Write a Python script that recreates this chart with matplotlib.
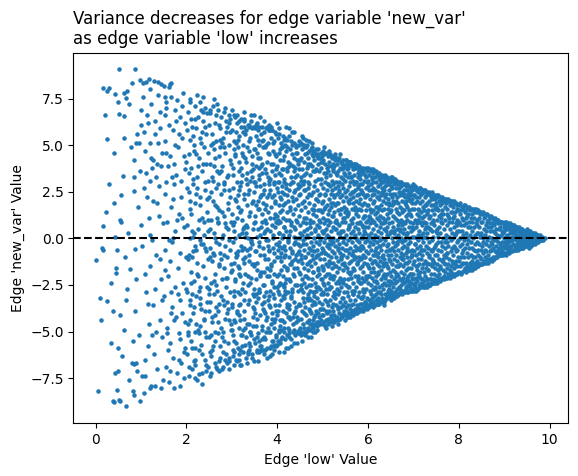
import matplotlib
matplotlib.use("Agg")
import matplotlib.pyplot as plt

# (low, new_var) pairs, left part of the cloud (low < 4), read point by point
sparse_points = [
    (0.51, 9.06), (0.87, 9.11), (0.16, 8.09), (0.25, 7.89), (0.29, 8.05), (0.43, 7.75), (0.63, 7.8), (0.69, 7.91),
    (0.49, 7.3), (0.66, 7.55), (0.73, 7.23), (0.8, 8.34), (0.51, 6.69), (0.62, 6.55), (0.25, 5.33), (0.4, 4.6),
    (0.6, 3.34), (0.84, 4.2), (0.84, 3.29), (0.84, 2.52), (0.4, 1.91), (0.23, 1.42), (0.16, 0.67), (0.54, 1.0),
    (0.57, 0.9), (0.43, 0.06), (0.92, 5.6), (0.96, 5.1), (0.9, 5.1), (0.98, 8.5), (0.3, 2.9), (0.62, 5.4),
    (0.71, 0.3), (0.77, 4.9), (0.93, 1.7), (0.2, 6.6), (0.97, 3.6), (0.56, 2.3),
    (0.01, -1.15), (0.12, -4.38), (0.09, -3.2), (0.25, -3.38), (0.05, -8.2), (0.38, -8.74), (0.51, -8.66),
    (0.67, -8.97), (0.47, -8.15), (0.82, -8.2), (0.84, -8.4), (0.98, -8.75), (0.41, -8.77), (0.54, -8.73),
    (0.43, -7.2), (0.49, -7.1), (0.49, -5.9), (0.15, -0.5), (0.17, -0.65), (0.45, -1.6), (0.45, -1.85),
    (0.47, -0.62), (0.38, -3.9), (0.54, -4.1), (0.67, -3.3), (0.69, -2.73), (0.76, -1.64), (0.87, -0.58),
    (0.82, -5.5), (0.81, -6.7), (0.85, -6.75), (0.89, -6.7), (0.91, -7.1), (0.35, -2.4), (0.58, -6.3),
    (0.88, -3.9), (0.95, -5.2), (0.64, -1.0), (0.9, -2.2), (0.74, -7.6), (0.62, -4.9), (0.33, -5.6),
    (1.0, 0.7), (1.0, 6.1), (1.0, 6.9), (1.04, 7.6), (1.07, 2.7), (1.13, 2.2), (1.17, 1.1), (1.2, 3.1),
    (1.24, 3.8), (1.22, 4.3), (1.35, 4.0), (1.45, 3.9), (1.2, 5.1), (1.38, 5.1), (1.15, 6.2), (1.05, 8.35),
    (1.12, 8.4), (1.18, 8.55), (1.28, 8.45), (1.38, 8.38), (1.45, 8.3), (1.5, 8.2), (1.19, 8.0), (1.06, -8.27),
    (1.02, -7.4), (1.09, -7.4), (1.19, -8.0), (1.3, -7.9), (1.03, -0.4), (1.08, 4.7), (1.11, -2.9), (1.14, 6.6),
    (1.16, -5.8), (1.19, 0.2), (1.21, -1.5), (1.23, 7.2), (1.26, -3.6), (1.27, 2.0), (1.29, -6.2), (1.31, 5.6),
    (1.33, -0.9), (1.34, 3.3), (1.36, -7.0), (1.39, 1.2), (1.41, -4.4), (1.42, 6.8), (1.44, -2.2), (1.46, 4.6),
    (1.47, -5.3), (1.48, 0.8), (1.49, -7.6), (1.1, -6.5), (1.18, -4.6), (1.25, -0.1), (1.32, -2.7), (1.4, 2.8),
    (1.45, -8.0), (1.37, 7.7), (1.06, 5.7), (1.22, -7.9), (1.3, 6.3), (1.43, -1.1), (1.12, 3.5), (1.27, 4.2),
    (1.33, -5.0), (1.41, 5.9), (1.09, -1.9), (1.47, -3.3), (1.24, -5.2), (1.36, 1.9), (1.15, -3.5),
    (1.51, -3.1), (1.52, 5.2), (1.53, -0.6), (1.54, 2.4), (1.55, -6.9), (1.56, 7.0), (1.57, -4.8), (1.58, 0.9),
    (1.59, 3.9), (1.6, -2.0), (1.61, 6.1), (1.62, -7.7), (1.63, -1.2), (1.64, 4.4), (1.65, -5.6), (1.66, 1.7),
    (1.67, 7.6), (1.68, -3.7), (1.69, -0.2), (1.7, 5.8), (1.71, -6.4), (1.72, 2.9), (1.73, -8.0), (1.74, 6.9),
    (1.75, -2.6), (1.76, 0.4), (1.77, -4.2), (1.78, 3.4), (1.79, -7.2), (1.8, 7.4), (1.81, -1.6), (1.82, 4.9),
    (1.83, -5.1), (1.84, 1.3), (1.85, -3.3), (1.86, 6.5), (1.87, -0.8), (1.88, -6.7), (1.89, 2.2), (1.9, 5.4),
    (1.91, -4.0), (1.92, 7.8), (1.93, -2.4), (1.94, 0.6), (1.95, -7.5), (1.96, 3.7), (1.97, -5.9), (1.98, 6.2),
    (1.99, -1.0), (1.58, -5.1), (1.64, -7.1), (1.7, 2.1), (1.76, 5.0), (1.82, -3.0), (1.88, 3.1), (1.94, -6.1),
    (1.53, 6.6), (1.61, -0.1), (1.67, -2.9), (1.73, 4.0), (1.79, 1.0), (1.85, -7.9), (1.91, 7.1), (1.97, -4.5),
    (1.55, 3.0), (1.62, 8.1), (1.72, -4.4), (1.84, 5.6), (1.63, 8.3), (1.66, 8.35), (1.52, 7.6), (1.55, 7.3),
    (1.56, 4.6), (1.6, -6.0), (1.66, -4.0), (1.71, 0.0), (1.77, 6.3), (1.83, -6.5), (1.9, 1.1), (1.95, 4.4),
    (1.99, -2.7), (1.52, -1.7), (1.69, 3.3), (1.87, -5.4),
    (2.0, 4.1), (2.01, -6.2), (2.02, 0.7), (2.02, -2.9), (2.03, 6.8), (2.04, -4.6), (2.05, 2.5), (2.05, -7.4),
    (2.06, -0.9), (2.07, 5.3), (2.08, -3.6), (2.08, 1.6), (2.09, 7.5), (2.1, -5.5), (2.11, -1.8), (2.11, 3.8),
    (2.12, -7.0), (2.13, 6.0), (2.14, 0.1), (2.14, -4.0), (2.15, 2.9), (2.16, -6.6), (2.17, 4.7), (2.17, -2.3),
    (2.18, 7.1), (2.19, -0.4), (2.2, -5.0), (2.2, 1.9), (2.21, 5.9), (2.22, -3.1), (2.23, -7.6), (2.23, 3.3),
    (2.24, -1.3), (2.25, 6.5), (2.26, -4.9), (2.26, 0.5), (2.27, 4.3), (2.28, -6.0), (2.29, 2.2), (2.29, -2.6),
    (2.3, 7.3), (2.31, -0.1), (2.32, -5.7), (2.32, 5.1), (2.33, -3.8), (2.34, 1.1), (2.35, -7.2), (2.35, 3.6),
    (2.36, -1.5), (2.37, 6.3), (2.38, -4.3), (2.38, 0.9), (2.39, 4.9), (2.4, -6.5), (2.41, 2.6), (2.41, -2.1),
    (2.42, 7.0), (2.43, -0.7), (2.44, -5.3), (2.44, 5.6), (2.45, -3.4), (2.46, 1.4), (2.47, -6.9), (2.47, 3.1),
    (2.48, -1.1), (2.49, 6.1), (2.03, -5.2), (2.07, 2.0), (2.1, 6.4), (2.13, -3.0), (2.16, 0.3), (2.19, -6.8),
    (2.22, 4.5), (2.25, -2.0), (2.28, 1.0), (2.31, -4.7), (2.34, 5.7), (2.37, -0.3), (2.4, 3.0), (2.43, -7.1),
    (2.46, 6.7), (2.49, -2.7), (2.06, 3.5), (2.12, -1.0), (2.18, -5.9), (2.24, 2.7), (2.3, -3.2), (2.36, 4.0),
    (2.42, -5.0), (2.48, 0.4), (2.09, -4.4), (2.15, 5.5), (2.21, -0.6), (2.27, -7.3), (2.33, 6.9),
    (2.5, -3.9), (2.5, 2.2), (2.51, 6.7), (2.52, -0.5), (2.52, -6.1), (2.53, 4.0), (2.54, -2.4), (2.54, 1.0),
    (2.55, -7.2), (2.56, 5.6), (2.56, -4.5), (2.57, -1.2), (2.58, 3.1), (2.58, 7.1), (2.59, -5.8), (2.6, 0.3),
    (2.6, -3.0), (2.61, 4.8), (2.62, -6.7), (2.62, 1.8), (2.63, 6.2), (2.64, -1.9), (2.64, -4.1), (2.65, 2.7),
    (2.66, -0.2), (2.66, 5.2), (2.67, -7.0), (2.68, 3.6), (2.68, -2.8), (2.69, 0.8), (2.7, 6.9), (2.7, -5.1),
    (2.71, -1.4), (2.72, 4.4), (2.72, -3.5), (2.73, 1.5), (2.74, -6.4), (2.74, 5.9), (2.75, -0.8), (2.76, 2.4),
    (2.76, -4.8), (2.77, 6.5), (2.78, -2.2), (2.78, 0.0), (2.79, 3.9), (2.8, -6.9), (2.8, -3.3), (2.81, 5.4),
    (2.82, 1.2), (2.82, -1.6), (2.83, -5.5), (2.84, 6.8), (2.84, 2.9), (2.85, -0.4), (2.86, -4.3), (2.86, 4.6),
    (2.87, -2.6), (2.88, 0.6), (2.88, -6.2), (2.89, 6.0), (2.9, 3.3), (2.9, -1.0), (2.91, -3.8), (2.92, 1.9),
    (2.92, -5.6), (2.93, 5.0), (2.94, -0.1), (2.94, -6.6), (2.95, 2.6), (2.96, -2.9), (2.96, 4.2), (2.97, 6.4),
    (2.98, -4.6), (2.98, 0.9), (2.99, -1.8), (2.51, 0.5), (2.53, -3.4), (2.55, 5.0), (2.57, -6.0), (2.59, 2.0),
    (2.61, -0.9), (2.63, -5.0), (2.65, 6.6), (2.67, 1.1), (2.69, -3.9), (2.71, 3.5), (2.73, -7.1), (2.75, 4.9),
    (2.77, -1.1), (2.79, -5.3), (2.81, 0.2), (2.83, 3.0), (2.85, -6.5), (2.87, 5.7), (2.89, -2.1), (2.91, 1.6),
    (2.93, -4.4), (2.95, 6.2), (2.97, -0.6), (2.99, 4.0), (2.54, -5.2), (2.6, 3.9), (2.66, -2.5), (2.72, -0.3),
    (2.78, 5.1), (2.84, -3.6), (2.9, -6.7),
    (3.0, 1.3), (3.0, -4.9), (3.01, 5.8), (3.01, -1.7), (3.02, -6.3), (3.03, 3.4), (3.03, -0.2), (3.04, 6.6),
    (3.05, -3.1), (3.05, 0.9), (3.06, -5.5), (3.07, 4.5), (3.07, -2.3), (3.08, 2.1), (3.09, -6.5), (3.09, 5.1),
    (3.1, -0.8), (3.11, -4.0), (3.11, 3.0), (3.12, 6.2), (3.13, -1.5), (3.13, -5.9), (3.14, 1.7), (3.15, 4.1),
    (3.15, -3.6), (3.16, 0.2), (3.17, -6.5), (3.17, 5.5), (3.18, -2.0), (3.19, 2.8), (3.19, -4.4), (3.2, 6.4),
    (3.21, -0.4), (3.21, 3.8), (3.22, -5.2), (3.23, 1.0), (3.23, -2.7), (3.24, 5.0), (3.25, -6.1), (3.25, -1.1),
    (3.26, 2.4), (3.27, 6.4), (3.27, -3.9), (3.28, 0.6), (3.29, 4.3), (3.29, -5.7), (3.3, -1.9), (3.31, 3.2),
    (3.31, -6.4), (3.32, 5.8), (3.33, -0.6), (3.33, 1.8), (3.34, -4.6), (3.35, 6.1), (3.35, -2.5), (3.36, 0.0),
    (3.37, 4.7), (3.37, -6.0), (3.38, 2.6), (3.39, -3.3), (3.39, -0.9), (3.4, 5.4), (3.41, -5.0), (3.41, 1.4),
    (3.42, 6.3), (3.43, -2.1), (3.43, 3.6), (3.44, -6.2), (3.45, -0.3), (3.45, 4.0), (3.46, -4.2), (3.47, 2.0),
    (3.47, 6.0), (3.48, -1.4), (3.49, -5.4), (3.49, 0.8), (3.02, 2.7), (3.04, -2.8), (3.06, 0.4), (3.08, -4.5),
    (3.1, 5.7), (3.12, -6.6), (3.14, -0.7), (3.16, 3.6), (3.18, -3.0), (3.2, 1.5), (3.22, -5.8), (3.24, 4.4),
    (3.26, -1.3), (3.28, 6.0), (3.3, -4.8), (3.32, 0.3), (3.34, 2.9), (3.36, -6.2), (3.38, 5.2), (3.4, -2.4),
    (3.42, -0.1), (3.44, 3.3), (3.46, -3.7), (3.48, 4.8), (3.01, -3.5), (3.05, 4.8), (3.09, -1.0), (3.13, 2.3),
    (3.17, -4.8), (3.21, 6.0), (3.25, 0.5), (3.29, -2.9), (3.33, 4.9), (3.37, -5.6), (3.41, -0.5), (3.45, 1.9),
    (3.49, -3.1), (3.03, -6.0), (3.07, 6.5), (3.11, 1.1), (3.15, -1.9), (3.19, -6.0), (3.23, 3.4), (3.27, -4.3),
    (3.31, 0.7), (3.35, -3.5), (3.39, 6.1), (3.43, -5.2), (3.47, 3.7),
    (3.5, 2.5), (3.5, -3.8), (3.51, 5.9), (3.51, -0.7), (3.52, -5.6), (3.52, 1.2), (3.53, 3.9), (3.53, -2.2),
    (3.54, 6.1), (3.54, -4.7), (3.55, 0.1), (3.55, -6.1), (3.56, 4.6), (3.56, -1.3), (3.57, 2.0), (3.57, -3.2),
    (3.58, 5.3), (3.58, -5.1), (3.59, -0.2), (3.59, 3.2), (3.6, -2.7), (3.6, 6.0), (3.61, -6.1), (3.61, 1.6),
    (3.62, -4.1), (3.62, 4.3), (3.63, -0.9), (3.63, 2.8), (3.64, -5.8), (3.64, 5.6), (3.65, -1.8), (3.65, 0.6),
    (3.66, -3.5), (3.66, 3.5), (3.67, 6.0), (3.67, -4.9), (3.68, -0.5), (3.68, 1.9), (3.69, -6.0), (3.69, 4.9),
    (3.7, -2.5), (3.7, 0.3), (3.71, 2.9), (3.71, -3.9), (3.72, 5.7), (3.72, -5.3), (3.73, -1.1), (3.73, 1.0),
    (3.74, 3.7), (3.74, -6.0), (3.75, -2.9), (3.75, 5.9), (3.76, 0.8), (3.76, -4.4), (3.77, 4.1), (3.77, -1.6),
    (3.78, 2.2), (3.78, -5.9), (3.79, 5.1), (3.79, -0.1), (3.8, -3.3), (3.8, 1.4), (3.81, -5.0), (3.81, 3.1),
    (3.82, 5.8), (3.82, -2.0), (3.83, -0.6), (3.83, 4.5), (3.84, -5.9), (3.84, 0.4), (3.85, 2.6), (3.85, -3.7),
    (3.86, -4.6), (3.86, 5.4), (3.87, 1.7), (3.87, -1.4), (3.88, -5.5), (3.88, 3.6), (3.89, 5.8), (3.89, -2.4),
    (3.9, 0.0), (3.9, -5.8), (3.91, 4.0), (3.91, -3.0), (3.92, 2.3), (3.92, -0.8), (3.93, 5.2), (3.93, -4.8),
    (3.94, 1.1), (3.94, -1.9), (3.95, -5.7), (3.95, 3.4), (3.96, 5.7), (3.96, -3.6), (3.97, -0.3), (3.97, 0.9),
    (3.98, 4.4), (3.98, -5.2), (3.99, 2.7), (3.99, -2.6), (3.5, -1.5), (3.52, 4.8), (3.54, -3.0), (3.56, -6.0),
    (3.58, 0.5), (3.6, 3.8), (3.62, -2.0), (3.64, 2.3), (3.66, -5.4), (3.68, 5.3), (3.7, -0.9), (3.72, -3.4),
    (3.74, 1.6), (3.76, 5.0), (3.78, -4.2), (3.8, -0.4), (3.82, 2.9), (3.84, -2.8), (3.86, -5.8), (3.88, 0.7),
    (3.9, 4.7), (3.92, -4.5), (3.94, -1.2), (3.96, 2.0), (3.98, -3.9), (3.51, 3.0), (3.55, -4.3), (3.59, -5.5),
    (3.63, 0.2), (3.67, 4.0), (3.71, -1.8), (3.75, -5.0), (3.79, 3.3), (3.83, -3.1), (3.87, 5.8), (3.91, -0.5),
    (3.95, 1.3), (3.99, -5.7), (3.53, 1.8), (3.57, 5.8), (3.61, -2.9), (3.65, -6.0), (3.69, 2.4), (3.73, -4.0),
    (3.77, 0.5), (3.81, 5.8), (3.85, -1.7), (3.89, -4.3), (3.93, 3.0), (3.97, -5.8),
]

# more points where the band gets crowded (low 2 - 8)
fill_2_4 = [
    (2.37, 7.6), (2.81, -6.1), (2.14, 3.2), (2.66, -3.7), (2.05, -6.9), (2.92, 0.5), (2.48, 4.6), (2.23, -1.9),
    (2.71, 6.1), (2.58, -0.8), (2.11, 1.3), (2.99, -4.9), (2.44, -6.8), (2.76, 3.6), (2.29, 5.4), (2.62, -5.5),
    (2.07, -3.3), (2.85, 7.0), (2.33, -0.3), (2.55, 2.5), (2.18, -7.5), (2.96, 2.2), (2.41, -3.9), (2.69, 0.9),
    (2.02, 5.8), (2.88, -2.1), (2.27, -5.1), (2.53, 6.9), (2.79, -7.0), (2.15, -0.7), (2.64, 4.3), (2.31, 1.8),
    (2.94, -6.4), (2.46, -2.6), (2.73, -1.5), (2.09, 7.3), (2.57, -4.2), (2.84, 4.9), (2.21, -4.6), (2.68, 7.2),
    (2.39, 0.2), (2.97, 5.7), (2.12, -5.9), (2.51, -7.4), (2.78, 1.4), (2.26, 3.9), (2.61, -2.3), (2.04, -1.1),
    (2.89, -4.0), (2.35, -6.2), (2.74, -5.8), (2.19, 6.4), (2.47, 1.0), (2.83, -0.9), (2.59, 5.1), (2.01, 2.7),
    (2.91, 3.4), (2.28, -2.8), (2.65, -6.9), (2.43, 4.0), (2.16, -3.7), (2.77, -3.1), (2.52, -1.0), (2.98, -1.4),
    (2.24, 7.7), (2.7, 2.9), (2.06, 4.5), (2.87, 6.3), (2.34, -7.8), (2.63, 0.0), (2.42, 6.0), (2.13, 0.4),
    (2.8, -5.0), (2.49, -5.3), (2.22, 2.4), (2.95, -7.0), (2.56, 3.3), (2.72, -6.6), (2.1, -2.4), (2.38, -4.4),
    (2.86, 0.8), (2.6, 7.5), (2.3, -3.5), (2.03, -5.0), (2.75, 5.3), (2.45, 2.1), (2.93, 6.6), (2.2, -6.5),
    (2.67, 1.7), (2.36, 6.8), (2.82, 2.6), (2.5, -3.0), (2.17, 5.0), (2.9, -3.4), (2.54, -6.3), (2.08, 0.0),
    (2.4, -0.5), (2.7, -4.5),
    (3.42, 6.6), (3.07, -2.2), (3.85, 1.1), (3.21, -6.8), (3.64, 3.9), (3.13, 4.9), (3.96, -4.3), (3.38, -1.2),
    (3.72, 6.3), (3.03, 0.7), (3.55, -5.3), (3.88, -6.2), (3.26, 2.1), (3.61, -0.4), (3.17, -4.1), (3.79, 4.6),
    (3.49, -6.6), (3.01, 6.9), (3.68, -2.5), (3.33, 3.5), (3.92, 2.9), (3.1, -5.6), (3.57, 1.6), (3.81, -3.6),
    (3.24, 5.7), (3.46, -3.0), (3.75, -0.1), (3.05, -6.8), (3.63, 6.5), (3.3, 0.1), (3.98, 5.6), (3.19, 1.4),
    (3.52, -4.0), (3.86, -1.5), (3.36, -6.1), (3.7, 2.6), (3.12, -0.9), (3.44, 4.4), (3.91, -5.5), (3.28, -3.3),
    (3.6, 5.0), (3.02, 3.8), (3.77, -6.4), (3.47, 0.5), (3.83, 6.1), (3.15, 6.3), (3.66, -4.7), (3.35, -2.0),
    (3.95, 0.6), (3.22, -0.6), (3.54, 2.8), (3.89, -2.3), (3.09, 2.0), (3.73, -5.4), (3.4, -5.0), (3.62, -1.9),
    (3.27, 6.8), (3.99, -1.0), (3.5, 6.6), (3.18, -3.5), (3.84, 3.2), (3.06, -4.4), (3.58, -6.6), (3.31, 4.1),
    (3.76, 1.8), (3.43, -0.2), (3.93, -3.2), (3.14, 5.3), (3.67, 0.9), (3.39, -4.6), (3.8, -4.8), (3.23, 0.3),
    (3.53, 5.5), (3.87, 4.0), (3.04, -1.3), (3.71, -3.1), (3.34, -6.7), (3.59, 3.4), (3.97, 3.7), (3.2, 3.0),
    (3.48, -2.7), (3.82, -0.7), (3.11, 6.6), (3.65, -6.0), (3.37, 1.2), (3.94, -6.0), (3.25, -4.9), (3.56, -1.7),
    (3.9, 5.1), (3.08, 0.0), (3.74, 4.9), (3.41, 3.1), (3.16, -6.2), (3.69, -3.8), (3.29, -1.0), (3.85, -5.0),
    (3.51, 0.9), (3.0, -3.7), (3.78, -2.0), (3.45, 5.9), (3.63, 2.2), (3.32, -5.3), (3.96, 1.9), (3.13, -2.9),
    (3.55, 6.2), (3.88, -4.0), (3.22, 4.6), (3.7, -6.2), (3.04, 5.2), (3.47, -4.7), (3.81, 2.4), (3.28, 6.3),
    (3.6, -2.9), (3.17, 2.6), (3.92, -2.6), (3.39, 6.0), (3.75, 3.5), (3.06, -6.1), (3.53, -3.4), (3.86, 6.0),
    (3.24, -2.4), (3.67, 5.2), (3.34, 0.6), (3.98, -5.3), (3.11, -3.9), (3.44, -6.4), (3.79, -1.1), (3.2, -5.2),
    (3.58, 4.3), (3.9, 0.2), (3.36, 2.4), (3.73, 0.4), (3.02, -5.2), (3.49, 3.0), (3.84, -6.3), (3.15, -1.6),
    (3.62, -5.8), (3.3, 5.6), (3.95, 4.5), (3.08, 4.4), (3.41, -5.8), (3.77, 6.0), (3.26, -0.5), (3.54, -0.7),
    (3.88, 2.2), (3.19, -6.8), (3.66, 1.3), (3.45, -1.4),
]

fill_4_6 = [
    (4.33, 5.7), (4.08, -1.7), (4.71, 2.4), (4.19, -5.9), (4.56, -3.2), (4.02, 3.0), (4.88, -0.9), (4.27, -3.6),
    (4.64, 5.3), (4.11, -0.5), (4.45, 1.8), (4.93, -4.6), (4.36, -5.6), (4.79, 4.4), (4.05, 5.9), (4.52, -1.1),
    (4.21, 2.3), (4.68, -5.3), (4.97, 3.2), (4.14, -4.8), (4.41, 4.9), (4.83, 0.5), (4.25, -2.2), (4.6, -4.0),
    (4.03, -6.1), (4.49, -3.6), (4.74, -2.5), (4.17, 5.4), (4.9, 4.8), (4.31, 0.9), (4.58, 3.4), (4.12, -3.1),
    (4.44, -5.6), (4.8, -5.0), (4.23, -0.2), (4.66, 0.2), (4.07, 1.4), (4.38, -1.6), (4.99, -2.2), (4.54, 5.5),
    (4.29, 4.0), (4.72, -3.9), (4.15, 0.6), (4.47, -0.7), (4.85, 2.1), (4.01, -3.9), (4.62, -2.0), (4.34, 2.0),
    (4.77, 5.1), (4.2, 6.0), (4.55, -5.5), (4.09, -5.4), (4.94, 0.9), (4.4, 3.3), (4.68, 3.9), (4.26, -4.9),
    (4.82, -3.4), (4.13, 4.2), (4.5, -4.8), (4.04, -0.4), (4.87, -4.9), (4.37, 5.7), (4.63, 1.1), (4.18, -2.8),
    (4.75, -0.6), (4.3, -5.8), (4.96, -3.8), (4.46, 2.9), (4.1, 2.5), (4.57, -0.3), (4.84, 3.6), (4.22, 4.9),
    (4.69, -1.3), (4.35, -4.2), (4.06, 4.8), (4.91, -1.7), (4.53, 4.3), (4.28, 1.5), (4.76, -4.6), (4.16, -1.0),
    (4.43, -2.5), (4.81, 1.5), (4.0, 6.2), (4.61, -5.2), (4.32, -0.8), (4.98, 4.1), (4.48, 5.2), (4.24, -5.9),
    (4.73, 0.8), (4.11, 3.7), (4.39, -3.9), (4.86, -2.6), (4.59, 2.6), (4.03, -2.5), (4.67, -3.3), (4.19, 1.0),
    (4.92, 2.3), (4.42, 0.0), (4.78, -1.8), (4.26, 5.9), (4.51, 0.3), (4.14, -6.1), (4.84, -5.0), (4.36, 3.6),
    (4.65, 4.6), (4.07, -4.4), (4.45, -5.1), (4.89, 4.3), (4.21, -3.7), (4.57, 5.4), (4.33, -2.9), (4.95, -0.1),
    (4.12, 1.8), (4.7, 5.2), (4.4, -0.2), (4.05, 0.3), (4.62, -1.0), (4.29, -1.4), (4.83, -4.1), (4.16, 3.0),
    (4.53, -2.7), (4.98, 1.4), (4.44, 4.2), (4.74, -5.3), (4.24, -4.2),
    (5.31, 4.3), (5.07, -4.8), (5.64, -3.9), (5.18, 1.9), (5.85, 3.7), (5.42, -2.3), (5.03, 4.9), (5.76, -1.3),
    (5.25, -4.5), (5.58, 0.6), (5.12, -0.3), (5.93, -3.4), (5.37, 2.6), (5.69, 4.0), (5.21, -2.0), (5.5, -4.4),
    (5.05, 2.4), (5.88, 0.0), (5.33, -3.7), (5.61, 2.1), (5.15, 4.7), (5.79, -3.9), (5.46, 4.2), (5.01, -1.6),
    (5.72, 1.5), (5.28, 0.5), (5.97, 2.3), (5.4, -1.0), (5.1, -3.4), (5.55, 3.9), (5.83, -2.4), (5.23, 3.6),
    (5.66, -0.9), (5.35, -4.6), (5.04, 0.4), (5.9, -1.0), (5.48, 1.1), (5.17, -2.6), (5.74, 3.0), (5.29, -1.5),
    (5.6, -4.2), (5.08, 3.5), (5.95, -2.0), (5.44, -3.2), (5.19, 4.4), (5.81, 1.9), (5.53, -1.6), (5.26, 2.2),
    (5.7, -2.8), (5.02, -3.0), (5.38, 4.5), (5.87, -3.2), (5.13, 1.0), (5.62, 3.3), (5.45, 0.0), (5.99, -3.7),
    (5.22, -3.9), (5.77, 2.8), (5.34, -0.5), (5.09, -4.4), (5.56, -2.6), (5.92, 1.2), (5.3, 3.0), (5.67, -3.0),
    (5.16, -1.3), (5.84, -0.4), (5.49, 3.4), (5.06, 1.7), (5.73, -4.0), (5.41, 1.6), (5.2, -4.7), (5.96, 3.3),
    (5.59, 4.1), (5.27, -3.0), (5.8, 0.8), (5.11, 2.9), (5.52, -3.7), (5.36, -2.4), (5.68, 2.5), (5.0, -2.4),
    (5.89, -2.8), (5.43, 2.9), (5.14, -1.9), (5.63, -1.8), (5.24, 1.2), (5.78, -2.2), (5.47, -4.0), (5.39, 0.3),
    (5.94, 0.6), (5.32, 1.9), (5.57, 1.3), (5.06, -0.8), (5.71, 0.2), (5.19, -4.1), (5.86, 2.5), (5.44, 3.8),
    (5.12, 3.9), (5.65, -4.0), (5.28, 4.5), (5.82, 3.4),
]

fill_6_8 = [
    (6.37, -2.1), (7.12, 1.5), (6.84, -2.6), (7.61, 0.9), (6.09, 2.6), (7.35, -1.0), (6.58, 3.2), (7.88, -1.3),
    (6.22, -3.2), (7.04, -0.3), (6.71, 0.5), (7.47, 2.1), (6.15, -0.9), (7.79, 1.1), (6.46, 1.9), (7.23, -2.3),
    (6.93, 1.3), (6.03, -1.6), (7.56, -1.9), (6.62, -2.0), (7.95, 0.7), (6.29, 0.8), (7.16, 2.4), (6.77, -1.1),
    (7.41, -0.6), (6.12, 3.7), (7.7, -1.4), (6.53, -3.2), (7.28, 0.6), (6.88, 2.2), (6.01, 0.2), (7.52, 1.6),
    (6.41, -3.0), (7.83, -1.8), (6.68, 2.7), (7.09, -1.5), (6.25, 1.6), (7.64, 2.0), (6.95, -1.9), (6.33, -1.3),
    (7.38, 2.2), (6.8, -0.1), (6.06, -3.4), (7.19, 0.8), (6.57, 0.4), (7.91, -0.5), (6.44, 2.9), (7.31, -2.2),
    (6.74, -2.9), (7.02, 2.3), (6.18, -2.3), (7.55, -0.2), (6.87, -0.7), (7.44, 1.0), (6.31, 3.1), (7.75, -0.8),
    (6.63, 1.4), (7.13, -2.0), (6.97, 0.6), (6.21, 2.2), (7.66, -1.1), (6.49, -0.6), (7.26, 1.8), (6.91, -2.5),
    (6.1, 0.9), (7.5, -2.3), (6.66, -1.5), (7.85, 1.4), (6.35, -3.6), (7.07, 2.6), (6.79, 2.4), (7.33, -1.7),
    (6.04, 1.1), (7.6, 1.3), (6.55, 2.0), (7.2, -0.6), (6.89, -2.0), (6.27, -0.4), (7.72, 0.0), (6.42, 0.2),
    (7.98, 1.5), (6.7, -2.7), (7.11, 0.2), (6.16, -2.7), (7.46, -1.3), (6.83, 1.8), (6.5, 3.3), (7.37, 0.5),
    (6.94, 2.6), (6.23, -1.8), (7.58, -1.6), (6.64, -0.2), (7.01, -2.5), (6.38, 1.0), (7.81, 2.0), (6.76, 0.9),
    (7.24, 1.2), (6.13, -1.2), (7.68, -2.0), (6.6, -2.9), (7.29, -1.4), (6.98, -0.9), (6.3, 2.5), (7.42, -2.4),
    (6.86, 0.3), (7.93, -1.9), (6.08, 3.3), (7.15, -1.8), (6.47, -2.5), (7.53, 0.3),
]

# dense part of the cloud: for each 'low' value, the 'new_var' values stacked on it
cols_4_5 = [
    (4.00, (1.2, -4.1, 3.9, -2.0)), (4.01, (-0.6, 5.4, -2.8, 1.0)), (4.02, (2.5, -5.5, 0.8)),
    (4.03, (-1.9, 4.6, 0.3, -4.9)), (4.04, (-3.6, 1.8, -5.0, 3.5)), (4.05, (5.6, -0.2, 3.0, -3.0)),
    (4.06, (-4.7, 2.2, -1.0)), (4.07, (0.9, -2.4, 4.2, -5.6)), (4.08, (-1.2, 3.4, -4.9)),
    (4.09, (5.1, -3.3, -0.8, 2.1)), (4.10, (1.5, -4.4, 2.8, 4.9)), (4.11, (-5.3, 0.0, 4.9)),
    (4.12, (-2.0, 3.7, 0.2)), (4.13, (-3.9, 1.1, 5.5, -2.5)), (4.14, (-0.4, -5.0, 2.4, -3.2)),
    (4.15, (4.4, -2.6)), (4.16, (0.6, -1.5, 3.2, -4.5, 5.3)), (4.17, (5.0, -3.0, -0.6)),
    (4.18, (-5.4, 1.9, -0.9, -2.4)), (4.19, (2.9, -2.2, 4.7)), (4.20, (-4.0, 0.4, 2.7)),
    (4.21, (5.3, -1.7, 1.4, 3.8)), (4.22, (-3.5, 3.6, -5.2, -1.6)), (4.23, (-0.1, 2.0)),
    (4.24, (4.1, -2.9, -4.8, 0.0)), (4.25, (1.0, 5.5, -1.0, -4.2)), (4.26, (-3.8, 2.6, -5.3)),
    (4.27, (0.2, -5.1, 3.9)), (4.28, (-2.3, 4.8, -0.5, 2.9)), (4.29, (1.7, -4.3, 0.4)),
    (4.30, (5.2, -1.4, 3.3, -3.2)), (4.31, (-3.1, 0.7, -5.4)), (4.32, (2.2, 4.5, -1.2)),
    (4.33, (-0.7, -2.7, 5.0, 3.0)), (4.34, (-4.6, 1.3, 3.9)), (4.35, (3.0, -1.9, -5.0)),
    (4.36, (0.1, 4.3, -2.0)), (4.37, (-3.4, 2.5, -0.3, -4.0)), (4.38, (5.1, -4.9, 0.6)),
    (4.39, (-1.1, 1.6, 3.8)), (4.40, (-2.5, -5.2, 0.5, 2.6)), (4.41, (4.6, -3.7, 1.0)),
    (4.42, (2.1, -0.9, 5.0, -4.5)), (4.43, (-4.2, 3.4)), (4.44, (-1.6, 0.9, -5.0, 4.6)),
    (4.45, (4.0, -2.8, -0.8)), (4.46, (2.7, -0.3, -4.4, -1.2)), (4.47, (5.0, -1.8)),
    (4.48, (1.2, -3.5, 3.7, -5.1)), (4.49, (-4.9, 0.0, 2.3, 4.2)),
    (4.50, (0.7, -3.6, 4.2, -1.9, 2.8)), (4.51, (2.4, -5.0, -0.4)), (4.52, (5.1, -2.7, 1.5, -4.3, 3.1)),
    (4.53, (-0.9, 3.3, -5.2, -2.5)), (4.54, (0.2, 4.8, -2.2, -3.9)), (4.55, (1.9, -1.3, 3.7, -5.0)),
    (4.56, (-4.6, 2.9, -0.1, 5.0)), (4.57, (-2.9, 0.9, -5.1)), (4.58, (4.1, -1.6, 2.0, -3.4, 5.0)),
    (4.59, (-0.6, 4.9, 1.1)), (4.60, (-4.8, 3.1, -2.4, 0.4)), (4.61, (2.6, -1.0, -3.7, -5.1)),
    (4.62, (4.5, -5.0, 0.0, 1.7)), (4.63, (-2.0, 3.5, -4.1)), (4.64, (0.8, -0.3, 4.9, -2.6, -5.0)),
    (4.65, (-4.5, 2.2, -1.4)), (4.66, (3.8, -3.2, 0.5, 5.0)), (4.67, (-0.8, 1.4, -4.9, 4.0)),
    (4.68, (2.7, -2.1, 4.3, -3.0)), (4.69, (-1.7, 0.1, 3.0, -4.8)), (4.70, (-4.4, 4.7, -0.5, 1.9, -3.2)),
    (4.71, (-2.5, 2.9, -3.8)), (4.72, (0.6, 4.0, -1.2, -4.9)), (4.73, (3.4, -2.8, 1.0, -4.6)),
    (4.74, (-0.2, 4.8, -4.0, -1.5)), (4.75, (2.3, -3.3, 0.3)), (4.76, (-4.7, 3.9, -0.9, 1.6, 4.9)),
    (4.77, (-2.2, 4.5, -3.6)), (4.78, (0.9, 2.5, -1.1, -4.4)), (4.79, (3.6, -0.4, -2.9, -4.8)),
    (4.80, (4.7, 1.3, -4.7, -1.8)), (4.81, (-3.1, 2.8, 0.0)), (4.82, (-0.7, 4.2, -4.2, 1.8, -2.9)),
    (4.83, (3.1, -2.4, -3.5)), (4.84, (0.4, -1.3, 4.6, -4.6)), (4.85, (2.1, -0.2, -2.8, 4.8)),
    (4.86, (3.7, -3.9, 1.2, -1.0)), (4.87, (-4.5, 4.4, 0.7)), (4.88, (-2.0, 2.6, -0.6, -3.2, -4.7)),
    (4.89, (1.5, 4.0, -4.0)), (4.90, (-1.6, 3.2, -2.6, 0.2)), (4.91, (-4.5, 2.0, 4.5, -0.9)),
    (4.92, (-0.3, 1.0, -3.4, -1.9)), (4.93, (3.6, -4.2, 0.6)), (4.94, (2.4, -1.1, 4.3, -2.7, -4.6)),
    (4.95, (-3.8, 0.0, 1.5)), (4.96, (4.1, -4.4, -0.8, 2.9)), (4.97, (-2.2, 3.8, -3.0, 4.6)),
    (4.98, (0.4, -1.5, 4.4, -4.1)), (4.99, (1.9, -0.5, -3.5, 4.6)),
]

cols_5_6 = [
    (5.00, (1.1, -2.9, 4.2, -4.6)), (5.01, (-0.6, 2.7, -3.8, 0.3)), (5.02, (4.7, -1.7, -4.1, 2.0)),
    (5.03, (0.8, -0.2, 3.5, -2.5)), (5.04, (-4.5, 1.6, -1.1, 4.5)), (5.05, (3.0, -3.3, 0.0, -2.0)),
    (5.06, (2.3, -4.7, 4.0, -0.8)), (5.07, (-2.7, 1.0, 3.3, -3.9)), (5.08, (0.5, -1.4, 4.6, -4.4)),
    (5.09, (2.6, -0.4, -3.0, 1.8)), (5.10, (-4.0, 3.8, -1.9, 0.2)), (5.11, (4.4, -2.4, 1.3, -4.6)),
    (5.12, (-0.9, 2.9, -3.6, 0.7)), (5.13, (3.6, -1.5, -4.3, 4.6)), (5.14, (0.1, -2.7, 2.1, -0.5)),
    (5.15, (-3.9, 4.1, 1.5, -1.2)), (5.16, (2.8, -4.5, -0.1, 3.4)), (5.17, (-2.1, 0.9, -3.3, 4.5)),
    (5.18, (1.7, -1.0, -4.2, 2.4)), (5.19, (-0.3, 3.9, -2.6, 0.4)), (5.20, (4.3, -3.7, 1.2, -1.6)),
    (5.21, (-4.4, 2.6, -0.7, 3.1)), (5.22, (0.6, -2.2, 4.0, -3.1)), (5.23, (1.9, -4.5, -0.2, 2.9)),
    (5.24, (-1.3, 3.7, -3.5, 0.0)), (5.25, (4.4, -2.0, 1.4, -4.1)), (5.26, (-0.8, 2.3, -2.9, 3.9)),
    (5.27, (0.9, -4.3, 4.2, -1.5)), (5.28, (-3.2, 1.8, -0.4, 2.7)), (5.29, (3.5, -2.4, -4.4, 0.5)),
    (5.30, (-1.0, 4.3, 1.0, -3.6)), (5.31, (2.4, -0.1, -2.7, 3.4)), (5.32, (-4.2, 0.8, 4.0, -1.8)),
    (5.33, (1.5, -3.0, 2.8, -0.6)), (5.34, (-4.4, 3.6, -1.2, 0.3)), (5.35, (4.2, -2.3, 1.9, -3.8)),
    (5.36, (-0.3, 2.5, -4.0, 3.0)), (5.37, (0.7, -1.6, 4.3, -2.8)), (5.38, (-3.4, 1.3, -0.8, 3.8)),
    (5.39, (2.2, -4.3, 0.1, -2.1)), (5.40, (3.3, -1.1, -3.7, 4.1)), (5.41, (0.4, -2.6, 1.6, -4.1)),
    (5.42, (-0.5, 3.7, -3.2, 2.3)), (5.43, (4.0, -1.4, 0.9, -4.2)), (5.44, (-2.4, 2.0, -0.2, 3.2)),
    (5.45, (1.1, -3.6, 4.0, -1.7)), (5.46, (-4.1, 2.7, 0.4, -0.9)), (5.47, (3.5, -2.9, 1.7, -3.9)),
    (5.48, (-1.3, 0.0, 3.9, -2.2)), (5.49, (2.5, -4.0, -0.6, 1.4)),
    (5.50, (0.9, -3.4, 3.1, -1.5)), (5.51, (-4.1, 2.2, -0.3, 4.2)), (5.52, (1.6, -2.5, -3.9, 0.2, 4.2)),
    (5.53, (3.7, -1.0, 2.6, -4.2)), (5.54, (-0.6, 4.0, -2.9, 1.2)), (5.55, (-3.6, 0.5, 3.3, -1.8, -4.2)),
    (5.56, (2.0, -4.0, -0.1, 4.1)), (5.57, (-2.2, 1.4, 3.8, -3.1)), (5.58, (0.7, -1.3, 2.8, -4.1)),
    (5.59, (-0.8, 3.5, -2.6, 1.9)), (5.60, (4.1, -3.8, 0.0, -1.9)), (5.61, (2.4, -0.5, -3.3, 3.0, 4.1)),
    (5.62, (-4.0, 1.0, -1.2, 4.0)), (5.63, (0.3, 3.3, -2.1, -3.6)), (5.64, (2.5, -0.9, 1.6, -4.0)),
    (5.65, (-2.8, 3.9, -0.2, 0.8)), (5.66, (1.9, -3.5, -1.6, 3.1)), (5.67, (-3.9, 0.4, 2.2, -0.7, -4.1)),
    (5.68, (3.7, -2.4, 1.1, -3.0)), (5.69, (-1.1, 2.9, -4.0, 0.1)), (5.70, (3.4, -1.7, 4.0, -2.8)),
    (5.71, (0.6, -3.8, 1.7, -0.4)), (5.72, (-2.0, 2.6, -3.3, 3.8)), (5.73, (1.3, -1.0, 0.0, -3.9)),
    (5.74, (3.0, -2.6, 2.0, -0.6, 4.0)), (5.75, (-3.6, 3.8, 0.8, -1.4)), (5.76, (2.3, -4.0, -0.1, 1.5)),
    (5.77, (-2.3, 3.3, -3.1, 0.5)), (5.78, (3.9, -1.2, 2.7, -3.7)), (5.79, (-0.5, 1.2, -2.0, 3.5)),
    (5.80, (-3.8, 0.3, 2.4, -1.0, 3.9)), (5.81, (3.6, -2.9, 1.6, -0.2)), (5.82, (-3.5, 2.9, -1.6, 0.9)),
    (5.83, (3.2, -3.9, -0.6, 2.1)), (5.84, (0.0, -2.4, 3.8, -1.1)), (5.85, (1.5, -3.2, 2.6, -3.8)),
    (5.86, (-0.4, 3.6, -2.1, 0.7)), (5.87, (2.9, -1.5, -3.5, 1.8)), (5.88, (-2.7, 3.8, 0.2, -0.9)),
    (5.89, (1.1, -3.9, 2.4, -1.8)), (5.90, (3.5, -0.5, -3.1, 0.6, -3.7)), (5.91, (-2.3, 1.9, -3.8, 3.1)),
    (5.92, (0.4, -1.3, 3.7, -2.9)), (5.93, (2.2, -3.4, -0.2, 1.2)), (5.94, (-3.7, 3.4, -1.0, 0.3)),
    (5.95, (2.7, -2.2, 1.5, -3.5)), (5.96, (-0.7, 3.8, -2.7, 0.9)), (5.97, (1.8, -3.8, 3.0, -1.4)),
    (5.98, (-0.1, 2.3, -3.2, 3.6)), (5.99, (1.0, -2.0, -3.7, 2.8)),
]

cols_6_7 = [
    (6.00, (0.6, -2.4, 3.1, -3.6)), (6.01, (-0.8, 1.8, -1.5, 3.8)), (6.02, (2.6, -3.3, 0.1, -2.0)),
    (6.03, (-3.7, 1.2, 3.4, -0.4)), (6.04, (2.1, -1.1, -2.8, 0.8)), (6.05, (3.6, -3.5, -0.2, 1.6)),
    (6.06, (-1.8, 2.9, -3.0, 0.3)), (6.07, (1.4, -0.6, 3.7, -2.5)), (6.08, (-3.6, 2.3, -1.3, 0.0)),
    (6.09, (3.2, -2.1, 1.0, -3.2)), (6.10, (-0.3, 2.7, -3.7, 1.9)), (6.11, (3.5, -1.6, 0.5, -2.7)),
    (6.12, (-0.9, 1.5, -3.4, 3.0)), (6.13, (2.4, -2.3, -0.1, 3.6)), (6.14, (-3.1, 0.9, -1.8, 2.0)),
    (6.15, (3.3, -3.6, 1.3, -0.7)), (6.16, (-2.6, 2.6, 0.2, -1.2)), (6.17, (3.6, -3.3, 1.7, -0.5)),
    (6.18, (-2.0, 3.0, -3.0, 0.7)), (6.19, (1.1, -1.4, 2.2, -3.5)), (6.20, (-0.2, 3.4, -2.4, 1.4)),
    (6.21, (2.8, -3.5, -1.0, 0.4)), (6.22, (-2.9, 1.7, 3.5, -0.8)), (6.23, (0.1, -1.9, 2.5, -3.3)),
    (6.24, (3.2, -2.6, 1.0, -0.4)), (6.25, (-3.5, 2.1, -1.5, 3.5)), (6.26, (0.6, -2.9, 2.9, -0.1)),
    (6.27, (-1.2, 1.2, -3.4, 3.3)), (6.28, (2.3, -2.2, 0.3, -3.0)), (6.29, (-0.6, 3.1, -1.7, 1.8)),
    (6.30, (2.7, -3.4, 0.0, -2.5)), (6.31, (-1.0, 1.5, 3.4, -3.2)), (6.32, (0.8, -1.5, 2.4, -2.0)),
    (6.33, (-3.3, 3.0, -0.3, 1.1)), (6.34, (2.0, -2.7, 3.3, -0.9)), (6.35, (-1.9, 0.5, -3.4, 2.6)),
    (6.36, (3.1, -1.1, 1.6, -2.4)), (6.37, (-3.0, 2.2, -0.1, 3.4)), (6.38, (0.9, -2.0, 2.8, -3.3)),
    (6.39, (-0.7, 1.9, -1.3, 3.2)), (6.40, (2.4, -3.2, 0.4, -2.5)), (6.41, (-1.5, 3.3, -0.4, 1.3)),
    (6.42, (2.9, -3.1, -1.9, 0.6)), (6.43, (-2.8, 1.6, 3.0, -0.9)), (6.44, (0.2, -1.6, 2.1, -3.2)),
    (6.45, (3.2, -2.3, 1.1, -0.3)), (6.46, (-3.0, 2.6, -1.1, 0.8)), (6.47, (1.8, -2.7, 3.1, -0.6)),
    (6.48, (-1.8, 0.3, -3.1, 2.4)), (6.49, (3.0, -1.2, 1.4, -2.3)),
    (6.50, (0.4, -2.0, 2.8, -3.3)), (6.51, (-0.9, 1.5, -2.8, 3.2)), (6.52, (2.2, -1.4, 0.0, -3.0)),
    (6.53, (-2.4, 3.3, 0.9)), (6.54, (1.8, -3.2, -0.5, 2.7)), (6.55, (-1.7, 0.6, 3.1, -2.6)),
    (6.56, (2.4, -0.2, -3.1, 1.2)), (6.57, (-1.1, 2.9, -2.2)), (6.58, (0.3, -3.2, 1.9, -0.7)),
    (6.59, (3.0, -1.8, 2.4, -2.9)), (6.60, (-0.4, 1.1, -2.4, 3.2)), (6.61, (2.0, -3.0, 0.1)),
    (6.62, (-1.5, 2.7, -0.9, 1.6)), (6.63, (3.1, -2.7, 0.5, -1.9)), (6.64, (-3.1, 2.2, -0.3, 1.0)),
    (6.65, (2.9, -1.2, -2.3)), (6.66, (0.7, -3.0, 1.9, -0.6)), (6.67, (-2.0, 3.0, -1.5, 0.2)),
    (6.68, (2.5, -2.6, 1.3, -0.1)), (6.69, (-3.0, 0.9, 2.9)), (6.70, (-1.0, 1.7, -2.2, 3.0)),
    (6.71, (0.4, -2.9, 2.3, -1.4)), (6.72, (2.8, -0.8, -2.5, 1.0)), (6.73, (-1.8, 3.0, 0.0)),
    (6.74, (1.4, -3.0, -0.5, 2.5)), (6.75, (-2.3, 2.0, 0.7, -1.1)), (6.76, (2.9, -2.8, -0.2, 1.6)),
    (6.77, (-1.5, 0.3, -2.9)), (6.78, (2.3, -0.9, 2.9, -2.1)), (6.79, (0.9, -1.9, 1.5, -2.8)),
    (6.80, (-0.4, 2.6, -2.4, 0.5)), (6.81, (1.9, -2.9, 2.9)), (6.82, (-1.3, 0.8, -0.1, 2.2)),
    (6.83, (-2.7, 2.8, 1.2, -1.7)), (6.84, (0.2, -2.3, 2.0, -0.8)), (6.85, (2.6, -2.9, -1.3)),
    (6.86, (1.0, -0.5, 2.9, -2.1)), (6.87, (-2.8, 1.7, 0.3, -1.0)), (6.88, (2.4, -2.5, -0.3, 1.3)),
    (6.89, (-1.6, 2.8, -2.9)), (6.90, (0.6, -1.2, 2.1, -2.3)), (6.91, (2.8, -2.8, 0.0, 1.5)),
    (6.92, (-0.7, 2.5, -1.9, 0.9)), (6.93, (-2.6, 2.0, -0.2)), (6.94, (1.2, -2.8, 2.7, -1.0)),
    (6.95, (0.4, -1.6, 2.3, -2.4)), (6.96, (-0.9, 2.8, 1.6, -2.8)), (6.97, (0.1, -2.1, 2.1)),
    (6.98, (1.9, -0.6, -2.7, 2.6)), (6.99, (-1.4, 0.8, -2.2, 2.9)),
]

cols_7_8 = [
    (7.00, (0.5, -1.9, 2.7)), (7.01, (-0.7, 1.6, -2.8)), (7.02, (2.3, -1.2, 0.1)), (7.03, (-2.4, 1.0, 2.8)),
    (7.04, (-0.3, -2.6, 1.9)), (7.05, (2.6, -1.5, 0.6, -2.8)), (7.06, (-2.1, 2.2, -0.9)),
    (7.07, (1.3, -2.7, 0.0)), (7.08, (2.7, -0.5, -1.7)), (7.09, (0.8, -2.3, 2.0)), (7.10, (-1.1, 2.5, -2.7, 1.0)),
    (7.11, (1.6, -0.1, -1.9)), (7.12, (2.2, -2.5, 0.4)), (7.13, (-0.8, 1.2, -1.4)), (7.14, (2.7, -2.1, 0.9)),
    (7.15, (-2.6, 1.9, -0.4, 2.7)), (7.16, (0.2, 2.4, -1.1)), (7.17, (-2.4, 1.4, -0.6)), (7.18, (2.6, -1.6, 0.7)),
    (7.19, (-2.6, 0.0, 2.0)), (7.20, (1.1, -0.9, -2.2, 2.6)), (7.21, (2.5, -1.4, 0.3)), (7.22, (-2.5, 1.7, -0.2)),
    (7.23, (0.9, 2.6, -1.8)), (7.24, (-0.6, 1.5, -2.6)), (7.25, (2.2, -2.0, 0.5, -2.6)), (7.26, (-1.2, 0.1, 2.6)),
    (7.27, (1.8, -2.5, -0.4)), (7.28, (-1.6, 2.3, 0.8)), (7.29, (0.3, -2.2, 1.3)), (7.30, (2.5, -0.8, -2.6, 1.4)),
    (7.31, (-1.3, 1.9, 0.0)), (7.32, (2.4, -2.4, -0.5)), (7.33, (0.6, -1.7, 1.5)), (7.34, (-2.5, 2.5, -0.9)),
    (7.35, (1.1, -0.2, 2.0, -2.5)), (7.36, (-2.2, 0.5, -1.4)), (7.37, (2.4, -2.5, 1.2)), (7.38, (-0.6, 1.8, -1.9)),
    (7.39, (0.8, -2.2, 2.3)), (7.40, (-1.1, 2.1, -0.1, 2.5)), (7.41, (1.5, -2.4, 0.4)), (7.42, (2.3, -1.5, -0.7)),
    (7.43, (-2.3, 0.9, 1.8)), (7.44, (0.1, -1.2, 2.3)), (7.45, (-2.2, 1.3, -0.5, -2.4)), (7.46, (2.2, -1.9, 0.7)),
    (7.47, (-0.9, 1.6, -2.4)), (7.48, (2.3, -0.4, -1.6)), (7.49, (0.4, -2.3, 1.9)),
    (7.50, (-0.3, 1.7, -2.3)), (7.51, (1.0, -1.4, 2.3)), (7.52, (-2.0, 0.5, -2.3)), (7.53, (2.2, -0.9, -2.4)),
    (7.54, (0.1, 1.5)), (7.55, (-1.7, 2.3, -0.6)), (7.56, (1.2, -2.2)), (7.57, (-1.1, 0.6, 2.0)),
    (7.58, (-2.3, 1.8)), (7.59, (0.3, -1.5, 2.2)), (7.60, (-0.7, 1.1, -2.2)), (7.61, (2.1, -2.1, -0.2)),
    (7.62, (1.5, -1.2)), (7.63, (-2.2, 0.8, 2.2)), (7.64, (-0.4, 1.9)), (7.65, (-1.7, 0.0, 2.1)),
    (7.66, (1.3, -2.1)), (7.67, (-0.9, 2.0, -1.3)), (7.68, (0.5, -2.2)), (7.69, (1.7, -0.5, 2.1)),
    (7.70, (-1.8, 1.0, -0.2)), (7.71, (0.2, -2.1, 1.9)), (7.72, (-1.0, 2.1)), (7.73, (1.3, -1.6, -0.2)),
    (7.74, (2.0, -2.1)), (7.75, (0.7, -0.8, 1.6)), (7.76, (-1.9, 2.1)), (7.77, (-0.4, 1.2, -1.4)),
    (7.78, (2.0, -2.0)), (7.79, (0.9, -1.1, 0.1)), (7.80, (-1.7, 1.8, -2.1)), (7.81, (-2.0, 0.5, 2.0)),
    (7.82, (1.4, -0.7)), (7.83, (-1.5, 2.0, -0.1)), (7.84, (0.9, -2.0)), (7.85, (1.8, -1.2, 0.3)),
    (7.86, (-0.5, 2.0)), (7.87, (-1.9, 1.1, -0.9)), (7.88, (0.0, 1.7)), (7.89, (-1.6, 1.2, -2.0)),
    (7.90, (0.6, -0.4, 2.0)), (7.91, (1.9, -1.4, 0.2)), (7.92, (-1.9, 1.4)), (7.93, (0.8, -0.7, 1.9)),
    (7.94, (-1.2, 0.3)), (7.95, (1.6, -1.9, -0.2)), (7.96, (1.0, -1.5)), (7.97, (-0.6, 1.8, 0.4)),
    (7.98, (-1.8, 0.9)), (7.99, (1.5, -1.0, -0.1)),
]

cols_8_10 = [
    (8.00, (0.4, -1.2, 1.8)), (8.01, (-1.8, 0.9)), (8.02, (1.3, -0.4)), (8.03, (-1.5, 1.9, 0.0)),
    (8.04, (0.7, -1.0)), (8.05, (-1.9, 1.5)), (8.06, (-0.3, 0.4, -1.4)), (8.07, (1.7, -0.8)),
    (8.08, (1.1, -1.8)), (8.09, (-0.6, 0.2, 1.6)), (8.10, (-1.3, 1.0)), (8.11, (1.8, -1.7)),
    (8.12, (-0.1, 0.7, -1.0)), (8.13, (1.4, -1.6)), (8.14, (-0.5, 1.8)), (8.15, (0.3, -1.3, 1.1)),
    (8.16, (-1.8, 0.8)), (8.17, (-0.8, 1.6)), (8.18, (0.1, -1.5, 1.2)), (8.19, (1.7, -0.3)),
    (8.20, (-1.7, 0.6)), (8.21, (1.3, -1.0, -0.1)), (8.22, (1.7, -1.6)), (8.23, (0.9, -0.5)),
    (8.24, (-1.3, 1.5, 0.2)), (8.25, (-1.7, 0.6)), (8.26, (1.1, -0.9)), (8.27, (-0.2, 1.6, -1.5)),
    (8.28, (0.4, -1.2)), (8.29, (1.3, -1.7)), (8.30, (-0.5, 0.9, 1.6)), (8.31, (-1.0, 0.0)),
    (8.32, (1.5, -1.6)), (8.33, (0.6, -0.6, 1.1)), (8.34, (-1.4, 1.6)), (8.35, (0.2, -1.0)),
    (8.36, (1.4, -1.6, -0.3)), (8.37, (0.8, -1.3)), (8.38, (1.6, -0.7)), (8.39, (-1.5, 0.3, 1.0)),
    (8.40, (-0.2, 1.4)), (8.41, (-1.2, 0.7)), (8.42, (1.5, -1.5, -0.6)), (8.43, (0.3, -0.9)),
    (8.44, (1.1, -1.4)), (8.45, (-0.3, 1.4, 0.6)), (8.46, (-1.4, 0.1)), (8.47, (1.3, -1.0)),
    (8.48, (-0.6, 0.9, -1.4)), (8.49, (1.4, 0.2)),
    (8.50, (0.3, -1.1)), (8.51, (-0.4, 1.3)), (8.52, (0.9, -1.4)), (8.53, (-0.8, 0.0)), (8.54, (1.4, -0.2)),
    (8.55, (0.5, -1.2)), (8.56, (-1.3, 1.1)), (8.57, (0.2, -0.6)), (8.58, (1.2, -1.0)), (8.59, (-0.3, 0.7)),
    (8.60, (1.3, -1.3)), (8.61, (-0.7, 0.4)), (8.62, (0.9, -1.1)), (8.63, (-0.1, 1.3)), (8.64, (0.6, -0.9)),
    (8.65, (-1.3, 1.0)), (8.66, (0.1, -0.4)), (8.67, (1.2, -1.2)), (8.68, (-0.7, 0.8)), (8.69, (0.4, -1.1)),
    (8.70, (1.1, -0.2)), (8.71, (-1.1, 0.6)), (8.72, (1.2, -0.6)), (8.73, (0.0, -1.2)), (8.74, (0.8, -0.3)),
    (8.75, (1.1, -1.0)), (8.76, (-0.5, 0.4)), (8.77, (1.0, -1.1)), (8.78, (-0.1, 0.7)), (8.79, (1.1, -0.7)),
    (8.80, (-1.0, 0.3)), (8.81, (0.9, -0.4)), (8.82, (-1.0, 1.0)), (8.83, (0.5, -0.1)), (8.84, (-0.8, 1.0)),
    (8.85, (0.2, -1.0)), (8.86, (0.8, -0.6)), (8.87, (-0.2, 1.0)), (8.88, (0.5, -0.9)), (8.89, (-0.5, 0.1)),
    (8.90, (0.9, -0.8)), (8.91, (-0.3, 0.6)), (8.92, (0.9, -0.9)), (8.93, (0.2, -0.5)), (8.94, (-0.9, 0.8)),
    (8.95, (0.4, -0.2)), (8.96, (0.9, -0.7)), (8.97, (-0.4, 0.3)), (8.98, (0.8, -0.9)), (8.99, (0.0, 0.6)),
    (9.00, (0.4, -0.8)), (9.01, (-0.2, 0.9)), (9.02, (0.7, -0.5)), (9.03, (-0.9, 0.1)), (9.04, (0.5, -0.3)),
    (9.05, (0.9, -0.8)), (9.06, (-0.5, 0.2)), (9.07, (0.7, -0.1)), (9.08, (-0.7, 0.5)), (9.09, (0.8, -0.4)),
    (9.10, (0.0, -0.8)), (9.11, (0.6, -0.2)), (9.12, (-0.6, 0.8)), (9.13, (0.3, -0.5)), (9.14, (0.7, -0.7)),
    (9.15, (-0.1, 0.4)), (9.16, (0.7, -0.4)), (9.17, (-0.7, 0.1)), (9.18, (0.5, -0.1)), (9.19, (0.7, -0.6)),
    (9.20, (-0.3, 0.3)), (9.21, (0.6, -0.6)), (9.22, (0.0, 0.7)), (9.23, (-0.4, 0.4)), (9.24, (0.6, -0.6)),
    (9.25, (-0.1, 0.2)), (9.26, (0.6, -0.4)), (9.27, (-0.6, 0.4)), (9.28, (0.1, -0.3)), (9.29, (0.6, -0.5)),
    (9.30, (-0.2, 0.4)), (9.31, (0.5, -0.6)), (9.32, (-0.4, 0.1)), (9.33, (0.6, -0.1)), (9.34, (-0.5, 0.3)),
    (9.35, (0.2, -0.3)), (9.36, (0.5, -0.5)), (9.37, (-0.1, 0.5)), (9.38, (0.3, -0.4)), (9.39, (-0.5, 0.0)),
    (9.40, (0.5, -0.2)), (9.41, (-0.4, 0.2)), (9.42, (0.4, -0.5)), (9.43, (0.0, 0.4)), (9.44, (-0.3, 0.2)),
    (9.45, (0.4, -0.4)), (9.46, (-0.1, 0.1)), (9.47, (0.4, -0.4)), (9.48, (-0.3, 0.3)), (9.49, (0.2, -0.2)),
    (9.50, (0.3, -0.4)), (9.51, (-0.2, 0.5)), (9.53, (0.1, -0.3)), (9.54, (0.4, -0.5)), (9.55, (-0.1, 0.2)),
    (9.57, (0.4, -0.3)), (9.58, (-0.4, 0.1)), (9.60, (0.3, -0.1)), (9.61, (-0.3, 0.3)), (9.63, (0.0, -0.3)),
    (9.64, (0.3, -0.2)), (9.66, (-0.2, 0.2)), (9.67, (0.3, -0.3)), (9.69, (0.0, 0.1)), (9.70, (-0.2, 0.2)),
    (9.72, (0.2, -0.1)), (9.73, (-0.2, 0.0)), (9.75, (0.2, -0.2)), (9.77, (0.0, 0.1)), (9.78, (-0.1, 0.2)),
    (9.80, (0.1, -0.1)), (9.82, (0.0, -0.1)), (9.84, (0.1, 0.0)), (9.86, (0.0, -0.1)), (9.90, (0.0,)),
]

low = []
new_var = []
for pts in (sparse_points, fill_2_4, fill_4_6, fill_6_8):
    low += [p[0] for p in pts]
    new_var += [p[1] for p in pts]
for cols in (cols_4_5, cols_5_6, cols_6_7, cols_7_8, cols_8_10):
    for x, ys in cols:
        low += [x] * len(ys)
        new_var += list(ys)

fig = plt.figure(figsize=(5.78, 4.76), dpi=100)
ax = fig.add_axes([0.1268, 0.1107, 0.8555, 0.7786])

ax.scatter(low, new_var, s=5, color="#1f77b4")
ax.axhline(0, color="black", linestyle="--")

ax.set_xlim(-0.49, 10.40)
ax.set_ylim(-9.92, 9.96)
ax.set_xlabel("Edge 'low' Value")
ax.set_ylabel("Edge 'new_var' Value")
ax.set_title("Variance decreases for edge variable 'new_var'\nas edge variable 'low' increases", loc="left")

fig.savefig("out.png", dpi=100)
